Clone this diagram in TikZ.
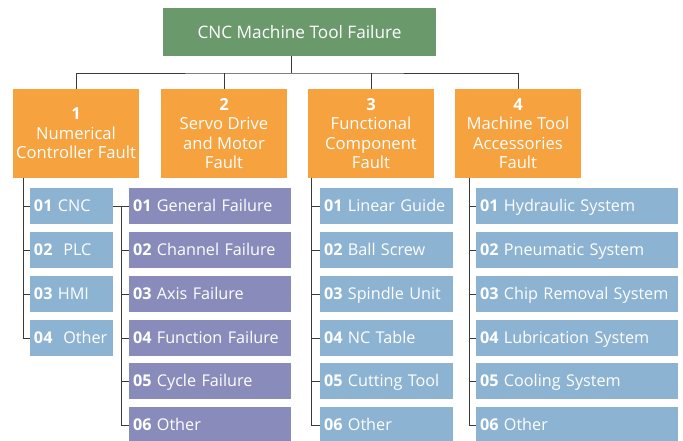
\documentclass[tikz,border=0pt]{standalone}
\usepackage{fontspec}
\setmainfont{Open Sans}
\definecolor{rootgreen}{HTML}{6A9A6B}
\definecolor{catorange}{HTML}{F5A23F}
\definecolor{itemblue}{HTML}{8DB3D2}
\definecolor{itempurple}{HTML}{898CBA}
\definecolor{wire}{HTML}{3A3A3A}
\tikzset{
  box/.style={anchor=north west, inner sep=0pt, outer sep=0pt, text=white},
  rootbox/.style={box, fill=rootgreen, minimum width=273pt, minimum height=48pt,
    font=\fontsize{17.2}{20}\selectfont},
  catbox/.style={box, fill=catorange, minimum width=126pt, minimum height=89pt,
    align=center, font=\fontsize{16.6}{19.5}\selectfont},
  itembox/.style={box, minimum height=36pt, text width=#1, inner xsep=4pt,
    text height=13pt, text depth=2pt,
    align=left, font=\fontsize{16.2}{18}\selectfont},
  bluebox/.style={itembox=#1, fill=itemblue},
  purplebox/.style={itembox=#1, fill=itempurple},
  conn/.style={draw=wire, line width=0.9pt},
}
\newcommand{\itm}[2]{\textbf{#1}\ #2}
\begin{document}
\begin{tikzpicture}[x=1pt, y=-1pt]
\useasboundingbox (0,0) rectangle (683,441);
\clip (0,0) rectangle (683,441);
\fill[white] (0,0) rectangle (683,441);

% root and categories
\node[rootbox] (root) at (163,8) {CNC Machine Tool Failure};
\node[catbox] (c1) at (13,89)  {\textbf{1}\\Numerical\\Controller Fault};
\node[catbox] (c2) at (161,89) {\textbf{2}\\Servo Drive\\and Motor\\Fault};
\node[catbox] (c3) at (308,89) {\textbf{3}\\Functional\\Component\\Fault};
\node[catbox] (c4) at (455,89) {\textbf{4}\\Machine Tool\\Accessories\\Fault};

% column 1: numerical controller
\node[bluebox=75pt] (a1) at (30,188) {\itm{01}{CNC}};
\node[bluebox=75pt] (a2) at (30,232) {\itm{02}{\ PLC}};
\node[bluebox=75pt] (a3) at (30,276) {\itm{03}{HMI}};
\node[bluebox=75pt] (a4) at (30,320) {\itm{04}{\ Other}};

% column 2: servo drive and motor
\node[purplebox=154pt] (b1) at (129,188) {\itm{01}{General Failure}};
\node[purplebox=154pt] (b2) at (129,232) {\itm{02}{Channel Failure}};
\node[purplebox=154pt] (b3) at (129,276) {\itm{03}{Axis Failure}};
\node[purplebox=154pt] (b4) at (129,320) {\itm{04}{Function Failure}};
\node[purplebox=154pt] (b5) at (129,363) {\itm{05}{Cycle Failure}};
\node[purplebox=154pt] (b6) at (129,407) {\itm{06}{Other}};

% column 3: functional component
\node[bluebox=125pt] (d1) at (320,188) {\itm{01}{Linear Guide}};
\node[bluebox=125pt] (d2) at (320,232) {\itm{02}{Ball Screw}};
\node[bluebox=125pt] (d3) at (320,276) {\itm{03}{Spindle Unit}};
\node[bluebox=125pt] (d4) at (320,320) {\itm{04}{NC Table}};
\node[bluebox=125pt] (d5) at (320,363) {\itm{05}{Cutting Tool}};
\node[bluebox=125pt] (d6) at (320,407) {\itm{06}{Other}};

% column 4: machine tool accessories
\node[bluebox=194pt] (e1) at (476,188) {\itm{01}{Hydraulic System}};
\node[bluebox=194pt] (e2) at (476,232) {\itm{02}{Pneumatic System}};
\node[bluebox=194pt] (e3) at (476,276) {\itm{03}{Chip Removal System}};
\node[bluebox=194pt] (e4) at (476,320) {\itm{04}{Lubrication System}};
\node[bluebox=194pt] (e5) at (476,363) {\itm{05}{Cooling System}};
\node[bluebox=194pt] (e6) at (476,407) {\itm{06}{Other}};

% root to categories
\draw[conn] ([xshift=-8pt]root.south) -- ++(0,17) coordinate (bus);
\draw[conn] (c1.north) |- (bus) -| (c4.north);
\draw[conn] (c2.north) -- (c2.north |- bus);
\draw[conn] (c3.north) -- (c3.north |- bus);

% spines
\coordinate (s1) at ([xshift=10pt]c1.south west);
\coordinate (s3) at ([xshift=3pt]c3.south west);
\coordinate (s4) at ([xshift=14pt]c4.south west);
\coordinate (s2) at ([xshift=8pt]a1.east);
\foreach \k in {1,...,4} { \draw[conn] (s1) |- (a\k.west); }
\draw[conn] (a1.east) -- (s2);
\foreach \k in {1,...,6} {
  \draw[conn] (s2) |- (b\k.west);
  \draw[conn] (s3) |- (d\k.west);
  \draw[conn] (s4) |- (e\k.west);
}
\end{tikzpicture}
\end{document}
